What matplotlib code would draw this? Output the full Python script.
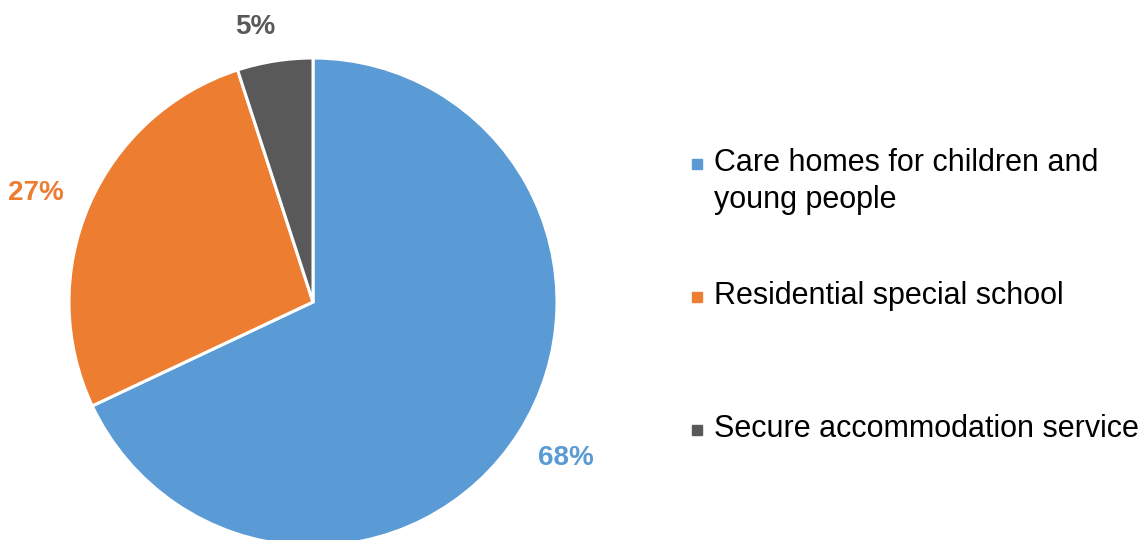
import numpy as np
import matplotlib.pyplot as plt
from matplotlib.lines import Line2D
from matplotlib.legend_handler import HandlerLine2D

plt.rcParams['font.family'] = ['Liberation Sans', 'DejaVu Sans']

categories = ['Care homes for children and\nyoung people',
              'Residential special school',
              'Secure accommodation service']
shares = [68, 27, 5]
colors = ['#5B9BD5', '#ED7D31', '#595959']
# label offsets: radial distance (in radii) and angular nudge (deg)
label_dist = [1.22, 1.22, 1.15]
label_nudge = [0.7, 1.9, 2.8]


class FirstLineHandler(HandlerLine2D):
    """Put the legend marker level with the first line of a two-line label."""

    def __init__(self, shift, **kw):
        super().__init__(**kw)
        self.shift = shift

    def create_artists(self, legend, orig_handle, xdescent, ydescent,
                       width, height, fontsize, trans):
        return super().create_artists(legend, orig_handle, xdescent,
                                      ydescent - 2 * self.shift, width, height,
                                      fontsize, trans)


W, H = 1145, 540
fig = plt.figure(figsize=(W / 100, H / 100), dpi=100)
ax = fig.add_axes([0, 0, 1, 1])

cx, cy, r = 313, H - 302, 244
wedges, _ = ax.pie(shares, colors=colors, startangle=90, counterclock=False,
                   center=(cx, cy), radius=r,
                   wedgeprops=dict(edgecolor='white', linewidth=2.2))
ax.set_xlim(0, W)
ax.set_ylim(0, H)
ax.set_aspect('equal')
ax.axis('off')

# percentage labels just outside each slice
for w, val, col, d, nd in zip(wedges, shares, colors, label_dist, label_nudge):
    ang = np.deg2rad((w.theta1 + w.theta2) / 2 + nd)
    ax.text(cx + d * r * np.cos(ang), cy + d * r * np.sin(ang), f'{val}%',
            ha='center', va='center', fontsize=20, fontweight='bold', color=col)

# every entry gets two line slots so the rows are evenly spaced
labels = [c if '\n' in c else c + '\n' for c in categories]
handles = [Line2D([], [], marker='s', linestyle='none', markersize=7.5,
                  markerfacecolor=c, markeredgecolor=c) for c in colors]
leg = fig.legend(handles, labels, loc='upper left',
                 bbox_to_anchor=(689.5 / W, 1 - 148 / H), bbox_transform=fig.transFigure,
                 frameon=False, fontsize=22, borderpad=0, borderaxespad=0,
                 handlelength=0.5, handletextpad=0.31, labelspacing=2.16,
                 handler_map={Line2D: FirstLineHandler(13.3)})
for t in leg.get_texts():
    t.set_linespacing(1.3)

fig.savefig('out.png', dpi=100)
